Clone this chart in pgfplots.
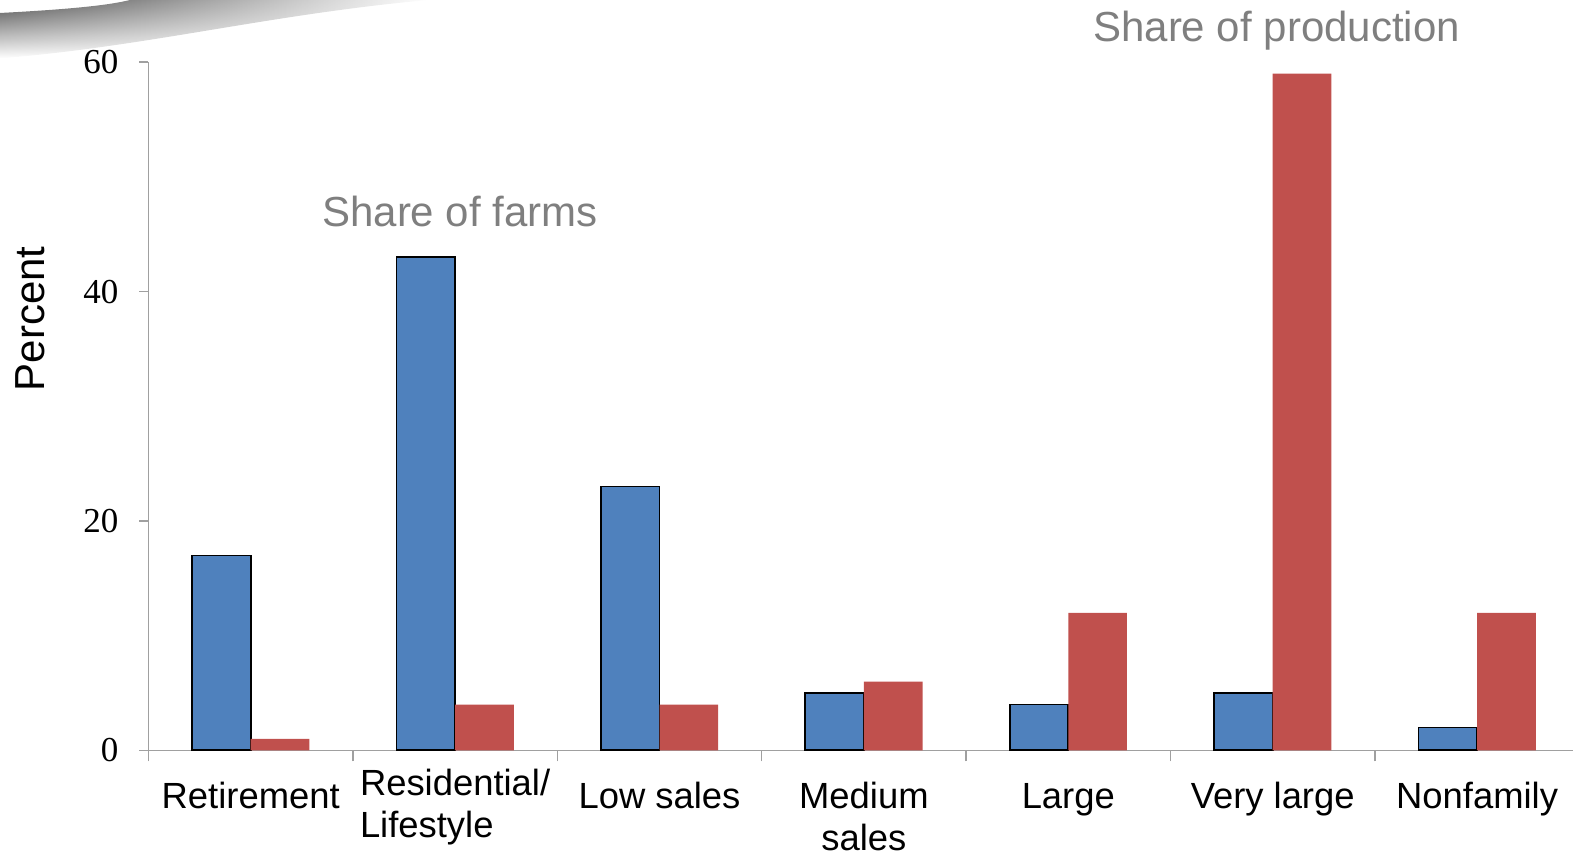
\documentclass[border=0pt]{standalone}
\usepackage{fontspec}
\setmainfont{Liberation Sans}
\newfontfamily\serifnum{Liberation Serif}
\usepackage{pgfplots}
\pgfplotsset{compat=1.18}
\usetikzlibrary{fadings}
\definecolor{cblue}{RGB}{79,129,189}
\definecolor{cred}{RGB}{192,80,77}
\definecolor{axgray}{RGB}{160,160,160}
\definecolor{txtgray}{RGB}{127,127,127}
\begin{document}
\begin{tikzpicture}
\useasboundingbox (-74.25pt,-52.3pt) rectangle (712.25pt,375.2pt);
% decorative swoosh
\shade[top color=black!68, bottom color=white, path fading=east]
  (-74.25pt,368.7pt) .. controls (-40pt,370.5pt) and (-20pt,372.5pt) .. (-9.25pt,375.2pt)
  -- (140pt,375.2pt) .. controls (60pt,368pt) and (0pt,352pt) .. (-74.25pt,346pt) -- cycle;
\begin{axis}[
  scale only axis,
  width=715.4pt, height=344.1pt,
  xmin=-0.5, xmax=6.5, ymin=0, ymax=60,
  clip=false,
  axis lines*=left,
  axis line style={axgray, line width=0.75pt},
  every tick/.style={axgray, line width=0.75pt},
  tick align=outside,
  ytick={0,20,40,60},
  major tick length=4.5pt,
  xtick={0,...,6},
  major x tick style={draw=none},
  minor xtick={-0.5,0.5,1.5,2.5,3.5,4.5,5.5},
  minor tick length=5.5pt,
  /pgf/number format/assume math mode=true,
  yticklabel style={font=\serifnum\fontsize{17.5}{21}\selectfont, xshift=-7pt},
  xticklabels={Retirement,
    {\raisebox{6.5pt}{\begin{tabular}[t]{@{}l@{}}Residential/\\Lifestyle\end{tabular}}},
    Low sales,
    {\begin{tabular}[t]{@{}c@{}}Medium\\sales\end{tabular}},
    Large, Very large, Nonfamily},
  xticklabel style={font=\fontsize{18.2}{21}\selectfont, anchor=base, yshift=-24.8pt},
  ylabel={Percent},
  ylabel style={at={(rel axis cs:0,0.627)}, anchor=center, yshift=59.25pt, font=\fontsize{21}{25}\selectfont},
  ybar, bar width=0.287,
]
\addplot[fill=cblue, draw=black, line width=0.9pt, bar shift=-0.1435] coordinates {
(0,17) (1,43) (2,23) (3,5) (4,4) (5,5) (6,2)};
\addplot[fill=cred, draw=none, bar shift=0.1435] coordinates {
(0,1) (1,4) (2,4) (3,6) (4,12) (5,59) (6,12)};
\node[text=txtgray, font=\fontsize{21}{25}\selectfont] at (axis cs:1.024,46.97) {Share of farms};
\node[text=txtgray, font=\fontsize{21}{25}\selectfont] at (axis cs:5.019,62.71) {Share of production};
\end{axis}
\end{tikzpicture}
\end{document}
